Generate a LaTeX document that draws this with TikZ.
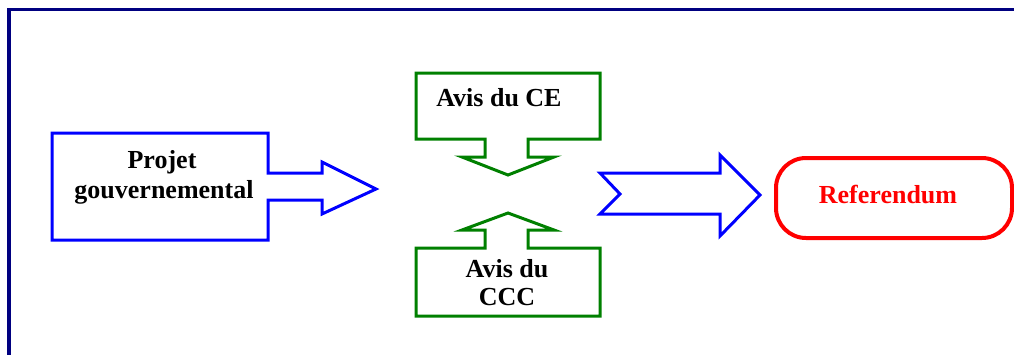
\documentclass[tikz,border=0pt]{standalone}
\usepackage{fontspec}
\setmainfont{Liberation Serif}
\definecolor{framenavy}{RGB}{0,0,128}
\definecolor{bblue}{RGB}{0,0,255}
\definecolor{ggreen}{RGB}{0,128,0}
\definecolor{rred}{RGB}{255,0,0}
\tikzset{
  bluepath/.style={draw=bblue, line width=3pt, line join=miter},
  greenpath/.style={draw=ggreen, line width=3pt, line join=miter},
  redbox/.style={draw=rred, line width=4pt, rounded corners=30pt},
  lbl/.style={anchor=base, inner sep=0pt, font=\bfseries\fontsize{26}{30}\selectfont}
}
\begin{document}
\begin{tikzpicture}[x=1pt,y=-1pt]
\clip (0,0) rectangle (1014,354);
\fill[white] (0,0) rectangle (1014,354);
% frame
\draw[framenavy, line width=3.5pt] (9,360) -- (9,9.5) -- (1020,9.5);
% Projet box with arrow
\draw[bluepath] (52,133) -- (268,133) -- (268,173) -- (322,173) -- (322,162) -- (376,189)
  -- (322,214) -- (322,200) -- (268,200) -- (268,240) -- (52,240) -- cycle;
\node[lbl] (projet1) at (162,168) {Projet};
\node[lbl] (projet2) at (164,198) {gouvernemental};
% Avis du CE
\draw[greenpath] (416,73) -- (600,73) -- (600,139) -- (528,139) -- (528,157) -- (554,157)
  -- (508,175) -- (462,157) -- (485,157) -- (485,139) -- (416,139) -- cycle;
\node[lbl] (ce) at (499,106) {Avis du CE};
% Avis du CCC
\draw[greenpath] (416,316) -- (600,316) -- (600,248) -- (528,248) -- (528,230) -- (554,230)
  -- (508,213) -- (462,230) -- (485,230) -- (485,248) -- (416,248) -- cycle;
\node[lbl] (ccc1) at (507,277) {Avis du};
\node[lbl] (ccc2) at (507,305) {CCC};
% big blue arrow
\draw[bluepath] (600,173) -- (720,173) -- (720,155) -- (760,195) -- (720,236) -- (720,214)
  -- (600,214) -- (620,194) -- cycle;
% Referendum
\draw[redbox] (776,158) rectangle (1012,238);
\node[lbl, text=rred] (ref) at (888,203) {Referendum};
\end{tikzpicture}
\end{document}
